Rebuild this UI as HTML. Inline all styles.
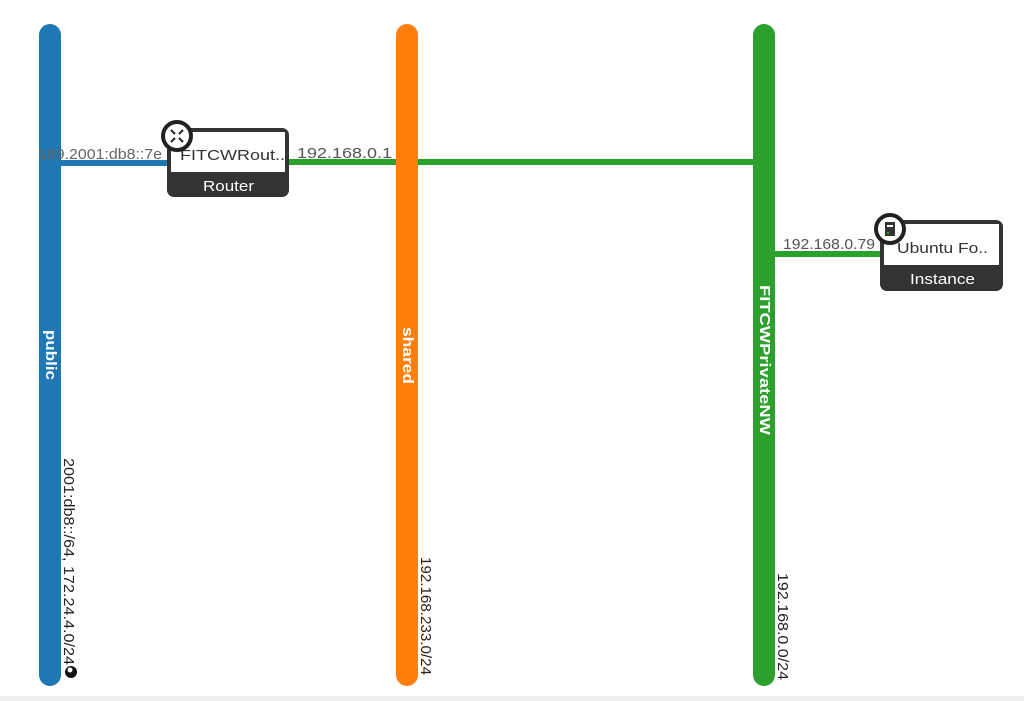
<!DOCTYPE html>
<html><head><style>body{margin:0;background:#fff}svg{display:block}</style></head><body>
<svg width="1024" height="701" xmlns="http://www.w3.org/2000/svg" font-family="Liberation Sans, sans-serif">
<rect x="0" y="696" width="1024" height="5" fill="#eee"/>
<line x1="50" y1="163" x2="170" y2="163" stroke="#1f77b4" stroke-width="6"/>
<line x1="288" y1="162" x2="764" y2="162" stroke="#2ca02c" stroke-width="6"/>
<line x1="764" y1="254" x2="884" y2="254" stroke="#2ca02c" stroke-width="6"/>
<rect x="39" y="24" width="22" height="662" rx="11" fill="#1f77b4"/>
<rect x="396" y="24" width="22" height="662" rx="11" fill="#ff7f0e"/>
<rect x="753" y="24" width="22" height="662" rx="11" fill="#2ca02c"/>
<text x="38" y="159" font-size="15" fill="#666" textLength="124" lengthAdjust="spacingAndGlyphs">189.2001:db8::7e</text>
<text x="297" y="158" font-size="15" fill="#555" textLength="95" lengthAdjust="spacingAndGlyphs">192.168.0.1</text>
<text x="783" y="249" font-size="15" fill="#555" textLength="92" lengthAdjust="spacingAndGlyphs">192.168.0.79</text>
<text transform="translate(46,330) rotate(90)" font-size="15" font-weight="bold" fill="#fff" textLength="50" lengthAdjust="spacingAndGlyphs">public</text>
<text transform="translate(403,327) rotate(90)" font-size="15" font-weight="bold" fill="#fff" textLength="57" lengthAdjust="spacingAndGlyphs">shared</text>
<text transform="translate(760,285) rotate(90)" font-size="15" font-weight="bold" fill="#fff" textLength="150" lengthAdjust="spacingAndGlyphs">FITCWPrivateNW</text>
<text transform="translate(64,458) rotate(90)" font-size="15" fill="#222" textLength="207" lengthAdjust="spacingAndGlyphs">2001:db8::/64, 172.24.4.0/24</text>
<circle cx="71" cy="672" r="6" fill="#111"/>
<circle cx="70" cy="670" r="2.5" fill="#fff"/>
<text transform="translate(421,557) rotate(90)" font-size="15" fill="#222" textLength="118" lengthAdjust="spacingAndGlyphs">192.168.233.0/24</text>
<text transform="translate(778,573) rotate(90)" font-size="15" fill="#222" textLength="107" lengthAdjust="spacingAndGlyphs">192.168.0.0/24</text>
<rect x="167" y="128" width="122" height="69" rx="7" fill="#333"/>
<rect x="171" y="132" width="114" height="40" fill="#fff"/>
<text x="180" y="160" font-size="15" fill="#333" textLength="105" lengthAdjust="spacingAndGlyphs">FITCWRout..</text>
<text x="203" y="191" font-size="15" fill="#fff" textLength="51" lengthAdjust="spacingAndGlyphs">Router</text>
<circle cx="177" cy="136" r="14" fill="#fff" stroke="#222" stroke-width="4"/>
<path d="M171 130l4 4M183 130l-4 4M171 142l4-4M183 142l-4-4" stroke="#222" stroke-width="2"/>
<rect x="880" y="220" width="123" height="71" rx="7" fill="#333"/>
<rect x="884" y="224" width="115" height="41" fill="#fff"/>
<text x="897" y="253" font-size="15" fill="#333" textLength="91" lengthAdjust="spacingAndGlyphs">Ubuntu Fo..</text>
<text x="910" y="284" font-size="15" fill="#fff" textLength="65" lengthAdjust="spacingAndGlyphs">Instance</text>
<circle cx="890" cy="229" r="14" fill="#fff" stroke="#222" stroke-width="4"/>
<rect x="885" y="222" width="10" height="14" fill="#333"/>
<rect x="887" y="225" width="6" height="2" fill="#fff"/>
<rect x="887" y="232" width="2" height="2" fill="#2ca02c"/>
</svg>
</body></html>
